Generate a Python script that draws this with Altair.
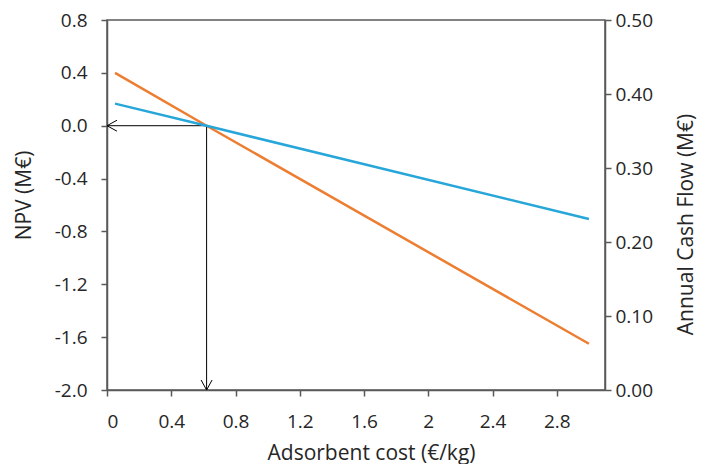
import altair as alt
import pandas as pd

# Data
cost = [0.05, 0.62, 3.0]          # Adsorbent cost (€/kg)
npv = [0.40, 0.0, -1.65]          # NPV (M€), left axis
cash_flow = [0.387, 0.357, 0.231] # Annual Cash Flow (M€), right axis
cross_cost = [0.62]
cross_npv = [0.0]
axis_zero = [0.0]
npv_floor = [-2.0]
x_ticks = [0, 0.4, 0.8, 1.2, 1.6, 2, 2.4, 2.8]
npv_ticks = [-2.0, -1.6, -1.2, -0.8, -0.4, 0.0, 0.4, 0.8]
cf_ticks = [0.0, 0.1, 0.2, 0.3, 0.4, 0.5]

df = pd.DataFrame({"cost": cost, "npv": npv, "cf": cash_flow})
cross = pd.DataFrame({"cost": cross_cost, "npv": cross_npv,
                      "zero": axis_zero, "floor": npv_floor})

FONT = "Open Sans"
AX = "#595959"
TXT = "#262626"

xscale = alt.Scale(domain=[0, 3.1], nice=False, zero=False)
yscale_l = alt.Scale(domain=[-2.0, 0.8], nice=False, zero=False)
yscale_r = alt.Scale(domain=[0.0, 0.5], nice=False, zero=False)

x_axis = alt.Axis(values=x_ticks, format="~g", title="Adsorbent cost (€/kg)",
                  titleX=264, titleY=69, titleBaseline="alphabetic",
                  titleAnchor="middle", titleAlign="center",
                  labelPadding=16, tickSize=6)
yl_axis = alt.Axis(values=npv_ticks, title="NPV (M€)",
                   labelExpr="replace(format(datum.value, '.1f'), '−', '-')",
                   titleX=-77, titleY=175, titleAngle=270, titleBaseline="alphabetic",
                   titleAlign="center", labelPadding=14, tickSize=6)
yr_axis = alt.Axis(values=cf_ticks, format=".2f", title="Annual Cash Flow (M€)",
                   orient="right", titleX=87, titleY=204, titleAngle=270,
                   titleBaseline="alphabetic", titleAlign="center",
                   labelPadding=4, tickSize=6)

X = lambda f: alt.X(f, scale=xscale, axis=x_axis)
YL = lambda f: alt.Y(f, scale=yscale_l, axis=yl_axis)

orange = alt.Chart(df).mark_line(color="#ED7D31", strokeWidth=2.5).encode(
    x=X("cost:Q"), y=YL("npv:Q"),
)
hrule = alt.Chart(cross).mark_rule(color="black", strokeWidth=1).encode(
    x=X("zero:Q"), x2="cost:Q", y=YL("npv:Q"),
)
vrule = alt.Chart(cross).mark_rule(color="black", strokeWidth=1).encode(
    x=X("cost:Q"), y=YL("floor:Q"), y2="npv:Q",
)
left_head = alt.Chart(cross).mark_point(
    shape="M 1 -0.55 L 0 0 L 1 0.55", size=400, filled=False,
    color="black", strokeWidth=1, opacity=1).encode(
    x=X("zero:Q"), y=YL("npv:Q"),
)
down_head = alt.Chart(cross).mark_point(
    shape="M -0.55 -1 L 0 0 L 0.55 -1", size=400, filled=False,
    color="black", strokeWidth=1, opacity=1).encode(
    x=X("cost:Q"), y=YL("floor:Q"),
)

left = alt.layer(orange, hrule, vrule, left_head, down_head)

blue = alt.Chart(df).mark_line(color="#27A6DA", strokeWidth=2.5).encode(
    x=X("cost:Q"),
    y=alt.Y("cf:Q", scale=yscale_r, axis=yr_axis),
)

chart = alt.layer(left, blue).resolve_scale(y="independent").properties(
    width=498, height=370,
    padding={"left": 99, "top": 12, "right": 93, "bottom": 74},
    autosize=alt.AutoSizeParams(type="none"),
).configure_view(
    stroke=AX, strokeWidth=1.5
).configure_axis(
    grid=False, domainColor=AX, domainWidth=1.5, tickColor=AX, tickWidth=1.5,
    labelFont=FONT, labelFontSize=19, labelColor=TXT,
    titleFont=FONT, titleFontSize=21, titleColor=TXT, titleFontWeight="normal",
)

chart.save("out.html", embed_options={"renderer": "svg", "actions": False})
